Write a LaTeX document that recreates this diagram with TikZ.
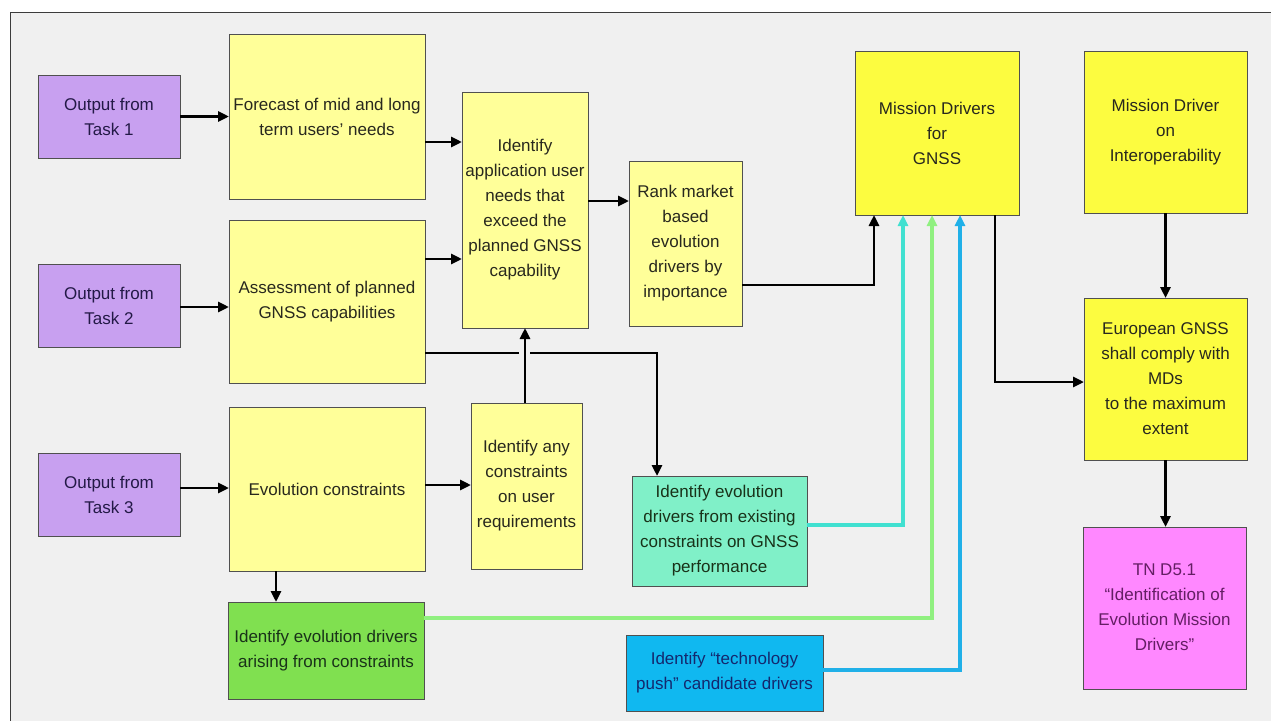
\documentclass[tikz,border=0pt]{standalone}
\usepackage{fontspec}
\setmainfont{Liberation Sans}
\usetikzlibrary{arrows.meta,calc}
\definecolor{bgc}{RGB}{240,240,240}
\definecolor{framec}{RGB}{60,60,60}
\definecolor{purp}{RGB}{200,160,240}
\definecolor{lyel}{RGB}{255,255,153}
\definecolor{byel}{RGB}{252,252,64}
\definecolor{grn}{RGB}{128,224,80}
\definecolor{aqua}{RGB}{128,240,200}
\definecolor{blu}{RGB}{16,184,240}
\definecolor{pnk}{RGB}{255,136,255}
\definecolor{aqual}{RGB}{64,224,208}
\definecolor{grnl}{RGB}{144,240,128}
\definecolor{blul}{RGB}{32,176,232}
\definecolor{txtp}{RGB}{35,25,70}
\definecolor{txty}{RGB}{40,40,30}
\definecolor{txtk}{RGB}{100,30,100}
\definecolor{txtb}{RGB}{20,40,110}
\definecolor{txtg}{RGB}{25,50,25}
\tikzset{
  bx/.style={draw=framec!90, line width=1pt, inner sep=0pt, outer sep=0pt, align=center,
    font=\fontsize{17}{25}\selectfont},
  purpbox/.style={bx, fill=purp, text=txtp},
  ybox/.style={bx, fill=lyel, text=txty},
  mdbox/.style={bx, fill=byel, text=txty},
  arr/.style={line width=2.8pt, black, -{Triangle[length=11pt,width=10pt]}},
  carr/.style={line width=3.2pt, -{Triangle[length=11pt,width=10pt]}},
}
\begin{document}
\begin{tikzpicture}[x=1pt,y=-1pt]
\useasboundingbox (0,0) rectangle (1271,720);
\fill[white] (0,0) rectangle (1271,720);
\begin{scope}
\clip (0,0) rectangle (1271,720);
\draw[fill=bgc, draw=framec, line width=1pt] (10,12) rectangle (1290,740);
\end{scope}
% nodes
\node[purpbox, minimum width=142pt, minimum height=83pt] (task1) at (109,116.5) {Output from\\Task 1};
\node[purpbox, minimum width=142pt, minimum height=83pt] (task2) at (109,305.5) {Output from\\Task 2};
\node[purpbox, minimum width=142pt, minimum height=83pt] (task3) at (109,494.5) {Output from\\Task 3};
\node[ybox, minimum width=196pt, minimum height=165pt] (forecast) at (327,116.5) {Forecast of mid and long\\term users' needs};
\node[ybox, minimum width=196pt, minimum height=163pt] (assess) at (327,301.5) {Assessment of planned\\GNSS capabilities};
\node[ybox, minimum width=196pt, minimum height=164pt] (evol) at (327,489) {Evolution constraints};
\node[bx, fill=grn, text=txtg, minimum width=196pt, minimum height=97pt] (drvcons) at (326,650.5) {Identify evolution drivers\\arising from constraints};
\node[ybox, minimum width=126pt, minimum height=236pt] (identapp) at (525,210) {Identify\\application user\\needs that\\exceed the\\planned GNSS\\capability};
\node[ybox, minimum width=113pt, minimum height=165pt] (rank) at (685.5,243.5) {Rank market\\based\\evolution\\drivers by\\importance};
\node[ybox, minimum width=111pt, minimum height=166pt] (anycons) at (526.5,486) {Identify any\\constraints\\on user\\requirements};
\node[bx, fill=aqua, text=txtg, minimum width=175pt, minimum height=110pt] (exist) at (719.5,531) {Identify evolution\\drivers from existing\\constraints on GNSS\\performance};
\node[bx, fill=blu, text=txtb, minimum width=197pt, minimum height=76pt] (tech) at (724.5,673) {Identify ``technology\\push'' candidate drivers};
\node[mdbox, minimum width=164pt, minimum height=164pt] (mdg) at (937,133) {Mission Drivers\\for\\GNSS};
\node[mdbox, minimum width=163pt, minimum height=162pt] (mdi) at (1165.5,132) {Mission Driver\\on\\Interoperability};
\node[mdbox, minimum width=163pt, minimum height=162pt] (euro) at (1165.5,379) {European GNSS\\shall comply with\\MDs\\to the maximum\\extent};
\node[bx, fill=pnk, text=txtk, minimum width=163pt, minimum height=162pt] (tn) at (1164.5,608) {\raisebox{9pt}{\begin{tabular}{@{}c@{}}TN D5.1\\``Identification of\\Evolution Mission\\Drivers''\end{tabular}}};
% connectors
\draw[arr] (task1) -- (forecast);
\draw[arr] ([yshift=-1.5pt]task2.east) coordinate (c2) -- (c2 -| assess.west);
\draw[arr] ([yshift=6.5pt]task3.east) coordinate (c3) -- (c3 -| evol.west);
\draw[arr] ([yshift=-25.5pt]forecast.east) coordinate (c4) -- (c4 -| identapp.west);
\draw[arr] ([yshift=42.5pt]assess.east) coordinate (c5) -- (c5 -| identapp.west);
\draw[arr] ([yshift=9pt]identapp.east) coordinate (c6) -- (c6 -| rank.west);
\draw[arr] ([yshift=-41.5pt]rank.east) -| ([xshift=-63pt]mdg.south);
\draw[arr] ([yshift=-51.5pt]assess.east) -| ([xshift=-62.5pt]exist.north);
\fill[bgc] (519,347) rectangle (530,359);
\draw[arr] (anycons.north -| identapp.south) -- (identapp.south);
\draw[arr] ([yshift=4pt]evol.east) coordinate (c10) -- (c10 -| anycons.west);
\draw[arr] ([xshift=-51pt]evol.south) coordinate (c11) -- (c11 |- drvcons.north);
\draw[carr, aqual] ([yshift=6pt]exist.east) -| ([xshift=-34pt]mdg.south);
\draw[carr, grnl] ([yshift=32.5pt]drvcons.east) -| ([xshift=-5pt]mdg.south);
\draw[carr, blul] ([yshift=3pt]tech.east) -| ([xshift=23pt]mdg.south);
\draw[arr] ([xshift=58pt]mdg.south) |- ([yshift=-3pt]euro.west);
\draw[arr] (mdi.south -| euro.north) -- (euro.north);
\draw[arr] (euro.south) -- (euro.south |- tn.north);
\end{tikzpicture}
\end{document}
